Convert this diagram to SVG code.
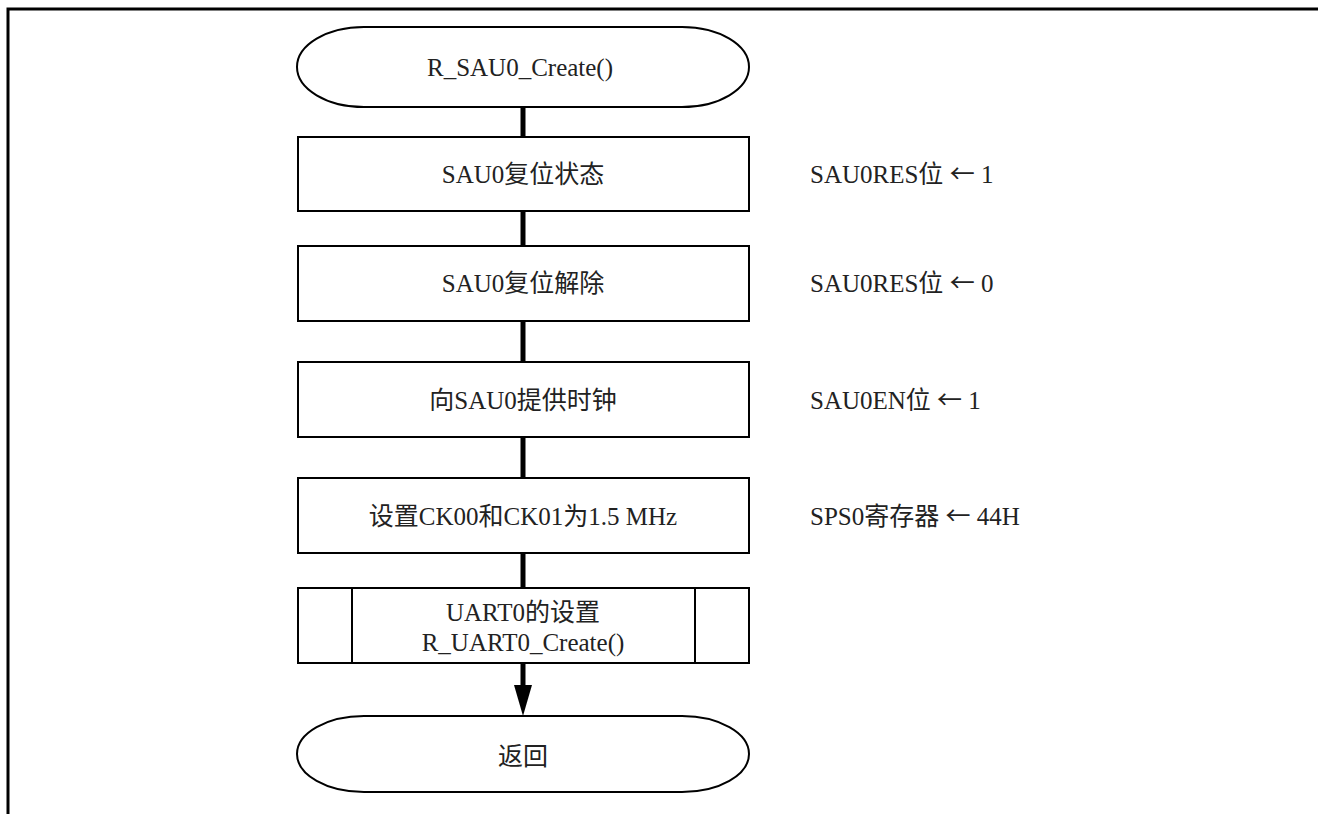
<svg xmlns="http://www.w3.org/2000/svg" width="1318" height="814" viewBox="0 0 1318 814">
<style>
.t{font-family:"Liberation Serif","Noto Sans CJK SC",serif;font-size:25px;fill:#222;}
.c{text-anchor:middle;}
.ar{font-family:"Noto Sans CJK SC","DejaVu Sans",sans-serif;}
.box{fill:#fff;stroke:#000;stroke-width:2;}
.conn{stroke:#000;stroke-width:5;fill:none;}
.frame{stroke:#000;stroke-width:3;fill:none;}
</style>
<rect width="1318" height="814" fill="#fff"/>
<path class="frame" d="M8,814 V9 H1318"/>
<g id="connectors">
<line class="conn" x1="523" y1="107" x2="523" y2="137"/>
<line class="conn" x1="523" y1="211" x2="523" y2="246"/>
<line class="conn" x1="523" y1="321" x2="523" y2="362"/>
<line class="conn" x1="523" y1="437" x2="523" y2="478"/>
<line class="conn" x1="523" y1="553" x2="523" y2="588"/>
<line class="conn" x1="523" y1="663" x2="523" y2="688"/>
<path d="M514,685 L532,685 L523,716 Z" fill="#000"/>
</g>
<g id="start">
<path class="box" d="M364,27 H682 A67,40 0 0 1 682,107 H364 A67,40 0 0 1 364,27 Z"/>
<text class="t c" x="520" y="76">R_SAU0_Create()</text>
</g>
<g id="n1">
<rect class="box" x="298" y="137" width="451" height="74"/>
<text class="t c" x="523" y="183">SAU0复位状态</text>
<text class="t" x="810" y="183">SAU0RES位 <tspan class="ar">←</tspan> 1</text>
</g>
<g id="n2">
<rect class="box" x="298" y="246" width="451" height="75"/>
<text class="t c" x="523" y="292">SAU0复位解除</text>
<text class="t" x="810" y="292">SAU0RES位 <tspan class="ar">←</tspan> 0</text>
</g>
<g id="n3">
<rect class="box" x="298" y="362" width="451" height="75"/>
<text class="t c" x="523" y="409">向SAU0提供时钟</text>
<text class="t" x="810" y="409">SAU0EN位 <tspan class="ar">←</tspan> 1</text>
</g>
<g id="n4">
<rect class="box" x="298" y="478" width="451" height="75"/>
<text class="t c" x="523" y="525">设置CK00和CK01为1.5 MHz</text>
<text class="t" x="810" y="525">SPS0寄存器 <tspan class="ar">←</tspan> 44H</text>
</g>
<g id="n5">
<rect class="box" x="298" y="588" width="451" height="75"/>
<line class="box" x1="352" y1="588" x2="352" y2="663"/>
<line class="box" x1="695" y1="588" x2="695" y2="663"/>
<text class="t c" x="523" y="621">UART0的设置</text>
<text class="t c" x="523" y="651">R_UART0_Create()</text>
</g>
<g id="end">
<path class="box" d="M364,716 H682 A67,38 0 0 1 682,792 H364 A67,38 0 0 1 364,716 Z"/>
<text class="t c" x="523" y="765">返回</text>
</g>
</svg>
